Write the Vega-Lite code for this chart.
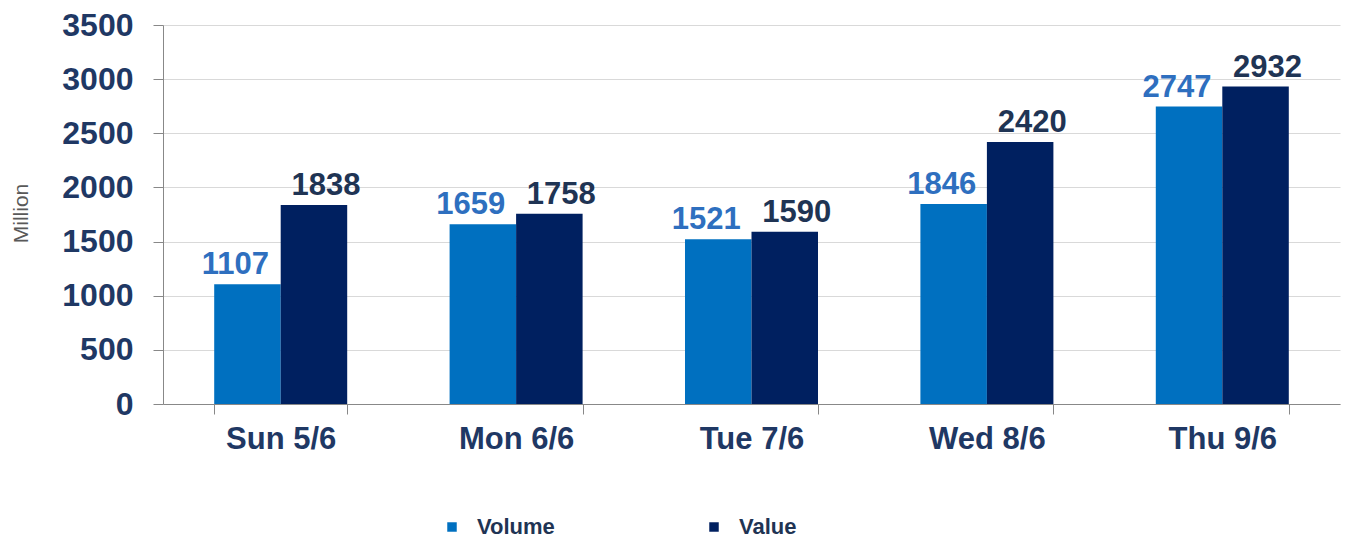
{
  "$schema": "https://vega.github.io/schema/vega-lite/v6.json",
  "width": 1177,
  "height": 379,
  "autosize": {"type": "none"},
  "padding": {"left": 163, "top": 25, "right": 11, "bottom": 137},
  "background": "white",
  "config": {"view": {"stroke": null}},
  "data": {
    "values": [
      {"day": "Sun 5/6", "series": "Volume", "amount": 1107},
      {"day": "Sun 5/6", "series": "Value", "amount": 1838},
      {"day": "Mon 6/6", "series": "Volume", "amount": 1659},
      {"day": "Mon 6/6", "series": "Value", "amount": 1758},
      {"day": "Tue 7/6", "series": "Volume", "amount": 1521},
      {"day": "Tue 7/6", "series": "Value", "amount": 1590},
      {"day": "Wed 8/6", "series": "Volume", "amount": 1846},
      {"day": "Wed 8/6", "series": "Value", "amount": 2420},
      {"day": "Thu 9/6", "series": "Volume", "amount": 2747},
      {"day": "Thu 9/6", "series": "Value", "amount": 2932}
    ]
  },
  "encoding": {
    "x": {
      "field": "day", "type": "nominal", "sort": null,
      "scale": {"paddingInner": 0.435, "paddingOuter": 0.2175},
      "axis": {
        "title": null, "labelAngle": 0, "grid": false,
        "tickBand": "extent", "tickSize": 10, "tickColor": "#888888",
        "domainColor": "#888888", "labelFont": "Liberation Sans", "labelFontWeight": "bold",
        "labelFontSize": 31, "labelColor": "#1F3864", "labelPadding": 10
      }
    },
    "xOffset": {
      "field": "series", "type": "nominal",
      "scale": {"domain": ["Volume", "Value"], "paddingInner": 0, "paddingOuter": 0}
    },
    "y": {
      "field": "amount", "type": "quantitative",
      "scale": {"domain": [0, 3500]},
      "axis": {
        "values": [0, 500, 1000, 1500, 2000, 2500, 3000, 3500],
        "format": "d",
        "grid": true, "gridColor": "#D9D9D9", "domainColor": "#888888",
        "tickColor": "#888888", "tickSize": 10,
        "labelFont": "Liberation Sans", "labelFontWeight": "bold", "labelFontSize": 32,
        "labelColor": "#1F3864", "labelPadding": 20,
        "title": "Million", "titleFont": "Liberation Sans", "titleFontWeight": "normal",
        "titleFontSize": 21, "titleColor": "#595959", "titleX": -136, "titleY": 188,
        "titleAngle": -90, "titleBaseline": "alphabetic", "titleAlign": "center"
      }
    }
  },
  "layer": [
    {
      "mark": {"type": "bar"},
      "encoding": {
        "color": {
          "field": "series", "type": "nominal",
          "scale": {"domain": ["Volume", "Value"], "range": ["#0070C0", "#002060"]},
          "legend": {
            "title": null, "orient": "none", "direction": "horizontal",
            "legendX": 278, "legendY": 491, "symbolType": "square", "symbolSize": 90,
            "symbolStrokeWidth": 0,
            "labelFont": "Liberation Sans", "labelFontWeight": "bold", "labelFontSize": 22,
            "labelColor": "#1F3454", "labelOffset": 14, "columnPadding": 148
          }
        }
      }
    },
    {
      "transform": [{"filter": "datum.series === 'Volume'"}],
      "mark": {"type": "text", "font": "Liberation Sans", "fontWeight": "bold", "fontSize": 31, "baseline": "alphabetic", "dy": -10, "dx": -12, "color": "#2E6FBF"},
      "encoding": {"text": {"field": "amount", "type": "quantitative"}}
    },
    {
      "transform": [{"filter": "datum.series === 'Value'"}],
      "mark": {"type": "text", "font": "Liberation Sans", "fontWeight": "bold", "fontSize": 31, "baseline": "alphabetic", "dy": -10, "dx": 12, "color": "#1F3454"},
      "encoding": {"text": {"field": "amount", "type": "quantitative"}}
    }
  ]
}
